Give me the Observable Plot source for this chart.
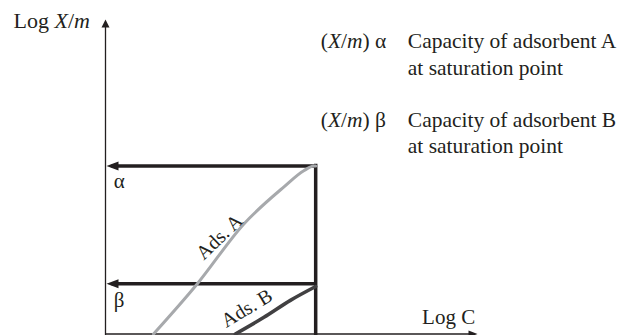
<!DOCTYPE html>
<html>
<head>
<meta charset="utf-8">
<script src="https://cdn.jsdelivr.net/npm/d3@7"></script>
<script src="https://cdn.jsdelivr.net/npm/@observablehq/plot@0.6"></script>
<style>
  html, body { margin: 0; padding: 0; background: #fff; }
  #chart svg { display: block; }
</style>
</head>
<body>
<div id="chart"></div>
<script>
// Freundlich-type isotherms (log–log), arbitrary units 0–100 on both axes
const adsA_logC   = [12.9, 24.7, 37.2, 47.9, 53.3, 56.0, 56.5];
const adsA_logXm  = [0, 16.0, 35.0, 46.7, 51.9, 53.4, 53.4];
const adsB_logC   = [34.9, 42.6, 49.7, 56.5];
const adsB_logXm  = [0, 5.3, 10.7, 15.1];

const saturationLogC = 56.5;
const capacitySymbols = ["α", "β"];
const capacityValues  = [53.4, 16.0];

// Text
const curveNames  = ["Ads. A", "Ads. B"];
const xAxisLabel  = "Log C";
const yAxisLabel  = "Log *X*/*m*";
const noteKeys    = ["(*X*/*m*) α", "(*X*/*m*) β"];
const noteLines   = [["Capacity of adsorbent A", "at saturation point"],
                     ["Capacity of adsorbent B", "at saturation point"]];

const W = 621, H = 335;
const margin = {left: 105, right: 144, top: 19, bottom: 1.5};
const pxPerX = (W - margin.left - margin.right) / 100;

const INK = "#231f20";
const GREY = "#a7a9ac";
const DARK = "#414042";
const FONT = "'Liberation Serif', 'Times New Roman', serif";

// filled arrowheads with the tip at the anchor point
function head(dir, L, Wd) {
  return {
    draw(ctx) {
      const h = Wd / 2;
      if (dir === "left")  { ctx.moveTo(0, 0); ctx.lineTo(L, -h); ctx.lineTo(L, h); }
      if (dir === "right") { ctx.moveTo(0, 0); ctx.lineTo(-L, -h); ctx.lineTo(-L, h); }
      if (dir === "up")    { ctx.moveTo(0, 0); ctx.lineTo(-h, L); ctx.lineTo(h, L); }
      ctx.closePath();
    }
  };
}

const curveA = adsA_logC.map((x, i) => ({x, y: adsA_logXm[i]}));
const curveB = adsB_logC.map((x, i) => ({x, y: adsB_logXm[i]}));
const capacity = capacitySymbols.map((s, i) => ({symbol: s, value: capacityValues[i]}));
const curveLabels = [
  {text: curveNames[0], x: 30.6, y: 30.9, rotate: -44},
  {text: curveNames[1], x: 38.0, y: 8.2,  rotate: -31}
];
const headGap = 6 / pxPerX; // capacity line stops inside its arrowhead

const plot = Plot.plot({
  width: W,
  height: H,
  marginLeft: margin.left,
  marginRight: margin.right,
  marginTop: margin.top,
  marginBottom: margin.bottom,
  x: {domain: [0, 100], axis: null},
  y: {domain: [0, 100], axis: null},
  style: {fontFamily: FONT, background: "transparent", overflow: "visible"},
  marks: [
    // axes with arrowheads
    Plot.ruleX([0], {y1: -0.5, y2: 98, stroke: INK, strokeWidth: 1.3}),
    Plot.ruleY([0], {x1: 0, x2: 98, stroke: INK, strokeWidth: 1.3}),
    Plot.dot([{x: 0, y: 100}], {x: "x", y: "y", symbol: head("up", 8, 8), fill: INK, stroke: "none"}),
    Plot.dot([{x: 100, y: 0}], {x: "x", y: "y", symbol: head("right", 9, 7), fill: INK, stroke: "none"}),

    // saturation line and capacity arrows
    Plot.ruleX([saturationLogC], {y1: -0.5, y2: capacityValues[0], stroke: INK, strokeWidth: 3.5, strokeLinecap: "square"}),
    Plot.link(capacity, {x1: () => saturationLogC, x2: () => headGap, y1: "value", y2: "value", stroke: INK, strokeWidth: 3.5}),
    Plot.dot(capacity, {x: () => 0, y: "value", dx: 1, symbol: head("left", 12, 9), fill: INK, stroke: "none"}),

    // isotherms
    Plot.line(curveA, {x: "x", y: "y", curve: "monotone-x", stroke: GREY, strokeWidth: 3, strokeLinecap: "round"}),
    Plot.line(curveB, {x: "x", y: "y", curve: "monotone-x", stroke: DARK, strokeWidth: 3.6, strokeLinecap: "round"}),

    // labels
    Plot.text(capacity, {x: () => 2.2, y: d => d.value - (d.symbol === "α" ? 7.1 : 7.3), text: "symbol",
      textAnchor: "start", lineAnchor: "bottom", fontSize: 21, fill: INK}),
    Plot.text(curveLabels, {x: "x", y: "y", text: "text", rotate: "rotate",
      fontSize: 20, fill: INK}),
    Plot.text([xAxisLabel], {x: () => 85.1, y: () => 3.2, text: d => d,
      textAnchor: "start", lineAnchor: "bottom", fontSize: 21, fill: INK})
  ]
});

// rich text (italic variables) placed through the plot's scales
const sx = plot.scale("x"), sy = plot.scale("y");
const X = v => sx.apply(v), Y = v => sy.apply(v);
const svg = d3.select(plot);
const g = svg.append("g")
  .attr("font-family", FONT)
  .attr("font-size", 21.5)
  .attr("text-anchor", "start")
  .attr("fill", INK);

function rich(sel, s) {
  s.split(/(\*[^*]+\*)/).filter(p => p.length).forEach(p => {
    const it = p.startsWith("*");
    sel.append("tspan")
      .attr("font-style", it ? "italic" : null)
      .text(it ? p.slice(1, -1) : p);
  });
}

rich(g.append("text")
  .attr("x", X(0) - 15)
  .attr("y", Y(97.1))
  .attr("font-size", 22)
  .attr("text-anchor", "end"), yAxisLabel);

const noteY = [[90.8, 82.2], [65.8, 57.3]];
noteKeys.forEach((k, i) => {
  rich(g.append("text").attr("x", X(58.0)).attr("y", Y(noteY[i][0])), k);
  noteLines[i].forEach((line, j) => {
    g.append("text").attr("x", X(81.4)).attr("y", Y(noteY[i][j])).text(line);
  });
});

document.getElementById("chart").appendChild(plot);
</script>
</body>
</html>
